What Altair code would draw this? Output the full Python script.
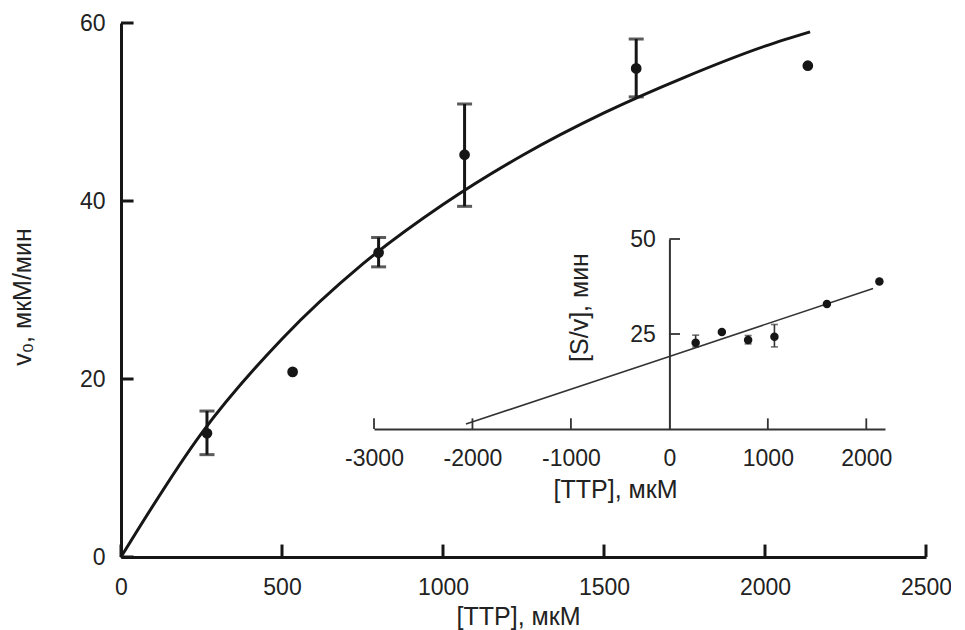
import altair as alt
import pandas as pd

FONT = "Liberation Sans, Arial, sans-serif"
INK = "#161616"
TXT = "#222222"
INSET_INK = "#333333"

# ---- main plot data ----
ttp = [267, 533, 800, 1067, 1600, 2133]
v0 = [13.9, 20.8, 34.2, 45.2, 54.9, 55.2]
v0_lo = [11.5, None, 32.6, 39.4, 51.7, None]
v0_hi = [16.4, None, 35.9, 50.9, 58.2, None]

fit_x = [0, 250, 500, 750, 1000, 1250, 1500, 1750, 2000, 2140]
fit_y = [0, 13.9, 24.5, 32.9, 39.6, 45.2, 49.9, 53.9, 57.4, 59.0]

main_x_ticks = [0, 500, 1000, 1500, 2000, 2500]
main_y_ticks = [0, 20, 40, 60]

# ---- inset data ----
inset_sv = [22.7, 25.5, 23.4, 24.3, 32.9, 38.8]
inset_lo = [21.6, None, 22.4, 21.6, None, None]
inset_hi = [24.7, None, 24.6, 27.5, None, None]
inset_line_x = [-2066, 0, 2069]
inset_line_y = [1.3, 19.1, 37.0]
inset_x_labels = [-3000, -2000, -1000, 0, 1000, 2000]
inset_x_ticks = [-3000, -2000, -1000, 1000, 2000]
inset_y_ticks = [25, 50]

W, H = 805, 534

pts = pd.DataFrame({"x": ttp, "y": v0, "lo": v0_lo, "hi": v0_hi})
err = pts.dropna()
fit = pd.DataFrame({"x": fit_x, "y": fit_y})
mxt = pd.DataFrame({"t": main_x_ticks})
myt = pd.DataFrame({"t": main_y_ticks})

ipts = pd.DataFrame({"ix": ttp, "iy": inset_sv, "lo": inset_lo, "hi": inset_hi})
ierr = ipts.dropna()
iline = pd.DataFrame({"ix": inset_line_x, "iy": inset_line_y})
ixt = pd.DataFrame({"t": inset_x_ticks})
iyt = pd.DataFrame({"t": inset_y_ticks})

xs = alt.Scale(domain=[0, 2500], nice=False, zero=False)
ys = alt.Scale(domain=[0, 60], nice=False, zero=False)

x_axis = alt.Axis(values=main_x_ticks, title="[TTP], мкМ", ticks=False, tickSize=0,
                  domainColor=INK, domainWidth=3, grid=False, labelFont=FONT,
                  labelFontSize=23, labelColor=TXT, labelPadding=19, labelFlush=False,
                  labelOverlap=False, labelExpr="'' + datum.value", titleFont=FONT,
                  titleFontSize=25, titleFontWeight="normal", titleColor=TXT, titleX=397,
                  titleY=67, titleAlign="center", titleBaseline="alphabetic",
                  titleAnchor="start")
y_axis = alt.Axis(values=main_y_ticks, title="v₀, мкМ/мин", orient="left", ticks=False,
                  tickSize=0, domainColor=INK, domainWidth=3, grid=False, labelFont=FONT,
                  labelFontSize=23, labelColor=TXT, labelPadding=16, labelFlush=False,
                  labelOverlap=False, titleFont=FONT, titleFontSize=25,
                  titleFontWeight="normal", titleColor=TXT, titleAngle=270, titleX=-91,
                  titleY=273.5, titleAlign="center", titleBaseline="alphabetic",
                  titleAnchor="start")

curve = alt.Chart(fit).mark_line(color=INK, strokeWidth=3, interpolate="monotone").encode(
    x=alt.X("x:Q", scale=xs, axis=x_axis),
    y=alt.Y("y:Q", scale=ys, axis=y_axis),
)
dots = alt.Chart(pts).mark_circle(color=INK, size=115, opacity=1).encode(
    x=alt.X("x:Q", scale=xs), y=alt.Y("y:Q", scale=ys))
bars = alt.Chart(err).mark_rule(color=INK, strokeWidth=3).encode(
    x=alt.X("x:Q", scale=xs), y=alt.Y("lo:Q", scale=ys), y2="hi:Q")
cap_lo = alt.Chart(err).mark_tick(color=INK, orient="horizontal", size=15, thickness=3).encode(
    x=alt.X("x:Q", scale=xs), y=alt.Y("lo:Q", scale=ys))
cap_hi = alt.Chart(err).mark_tick(color=INK, orient="horizontal", size=15, thickness=3).encode(
    x=alt.X("x:Q", scale=xs), y=alt.Y("hi:Q", scale=ys))
xticks = alt.Chart(mxt).mark_rule(color=INK, strokeWidth=3).encode(
    x=alt.X("t:Q", scale=xs), y=alt.datum(0), y2=alt.datum(1.4))
yticks = alt.Chart(myt).mark_rule(color=INK, strokeWidth=3).encode(
    y=alt.Y("t:Q", scale=ys), x=alt.datum(0), x2=alt.datum(39))

main = alt.layer(curve, bars, cap_lo, cap_hi, dots, xticks, yticks)

# ---- inset, drawn on its own scales inside the same plot area ----
ixs = alt.Scale(domain=[-3000, 2190], range=[253, 764], nice=False, zero=False)
iys = alt.Scale(domain=[0, 50], range=[406, 216], nice=False, zero=False)

ix_axis = alt.Axis(orient="bottom", offset=-128, values=inset_x_labels, title="[TTP], мкМ",
                   ticks=False, tickSize=0, domainColor=INSET_INK, domainWidth=2, grid=False,
                   labelFont=FONT, labelFontSize=23, labelColor=TXT, labelPadding=18,
                   labelFlush=False, labelOverlap=False, labelExpr="'' + datum.value",
                   titleFont=FONT, titleFontSize=25, titleFontWeight="normal",
                   titleColor=TXT, titleX=494, titleY=68, titleAlign="center",
                   titleBaseline="alphabetic", titleAnchor="start")
iy_axis = alt.Axis(orient="left", offset=-548.4, values=inset_y_ticks, title="[S/v], мин",
                   ticks=False, tickSize=0, domainColor=INSET_INK, domainWidth=2, grid=False,
                   labelFont=FONT, labelFontSize=23, labelColor=TXT, labelPadding=14,
                   labelFlush=False, labelOverlap=False, titleFont=FONT, titleFontSize=25,
                   titleFontWeight="normal", titleColor=TXT, titleAngle=270, titleX=-82,
                   titleY=284, titleAlign="center", titleBaseline="alphabetic",
                   titleAnchor="start")

iln = alt.Chart(iline).mark_line(color=INSET_INK, strokeWidth=1.6).encode(
    x=alt.X("ix:Q", scale=ixs, axis=ix_axis), y=alt.Y("iy:Q", scale=iys, axis=iy_axis))
idots = alt.Chart(ipts).mark_circle(color=INK, size=72, opacity=1).encode(
    x=alt.X("ix:Q", scale=ixs), y=alt.Y("iy:Q", scale=iys))
ibars = alt.Chart(ierr).mark_rule(color=INSET_INK, strokeWidth=1.6).encode(
    x=alt.X("ix:Q", scale=ixs), y=alt.Y("lo:Q", scale=iys), y2="hi:Q")
icap_lo = alt.Chart(ierr).mark_tick(color=INSET_INK, orient="horizontal", size=7, thickness=1.6).encode(
    x=alt.X("ix:Q", scale=ixs), y=alt.Y("lo:Q", scale=iys))
icap_hi = alt.Chart(ierr).mark_tick(color=INSET_INK, orient="horizontal", size=7, thickness=1.6).encode(
    x=alt.X("ix:Q", scale=ixs), y=alt.Y("hi:Q", scale=iys))
ixticks = alt.Chart(ixt).mark_rule(color=INSET_INK, strokeWidth=1.8).encode(
    x=alt.X("t:Q", scale=ixs), y=alt.datum(0), y2=alt.datum(2.8))
iyticks = alt.Chart(iyt).mark_rule(color=INSET_INK, strokeWidth=1.8).encode(
    y=alt.Y("t:Q", scale=iys), x=alt.datum(0), x2=alt.datum(108))

inset = alt.layer(iln, ibars, icap_lo, icap_hi, idots, ixticks, iyticks)

chart = alt.layer(main, inset).resolve_scale(x="independent", y="independent").resolve_axis(
    x="independent", y="independent"
).properties(
    width=W, height=H,
    padding={"left": 113, "top": 15, "right": 25, "bottom": 73},
    autosize=alt.AutoSizeParams(type="none"),
    background="white",
).configure_view(stroke=None)

chart.save("out.html", embed_options={"renderer": "svg", "actions": False})
